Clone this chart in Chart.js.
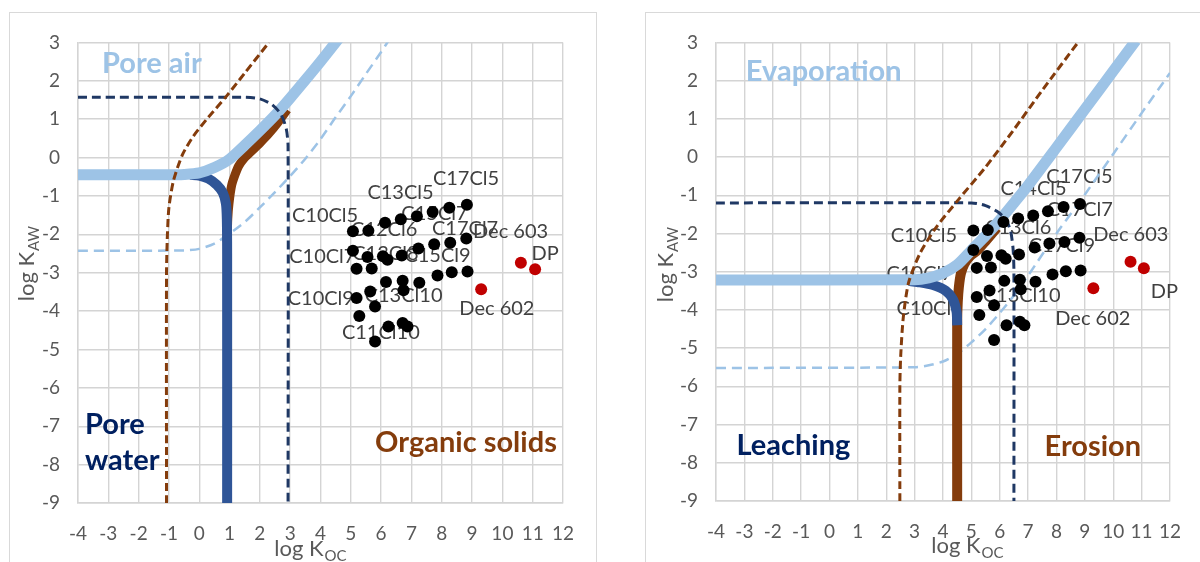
<!DOCTYPE html>
<html>
<head>
<meta charset="utf-8">
<script src="https://cdn.jsdelivr.net/npm/chart.js@4.4.1/dist/chart.umd.min.js"></script>
<style>
  body { margin: 0; background: #fff; width: 1200px; height: 562px; overflow: hidden; position: relative; }
  .panel { position: absolute; top: 12px; height: 560px; border: 1px solid #d9d9d9; }
  #leftPanel { left: 9px; width: 586px; }
  #rightPanel { left: 645px; width: 600px; }
  canvas { position: absolute; left: 0; top: 0; }
</style>
</head>
<body>
<div class="panel" id="leftPanel"><canvas id="leftChart" width="586" height="550"></canvas></div>
<div class="panel" id="rightPanel"><canvas id="rightChart" width="554" height="550"></canvas></div>
<script>
// compounds (log Koc, log Kaw) - same in both panels
const compKoc = [5.07, 5.58, 6.13, 6.65, 7.18, 7.70, 8.25, 8.83, 5.07, 5.55, 6.06, 6.21, 6.68, 7.23, 7.75, 8.28, 8.81,
                 5.19, 5.69, 6.16, 6.71, 7.26, 7.86, 8.33, 8.85, 5.19, 5.64, 6.74, 5.80, 5.28, 6.24, 6.71, 6.87, 5.80]
const compKaw = [-1.92, -1.91, -1.70, -1.61, -1.53, -1.42, -1.31, -1.23, -2.43, -2.59, -2.57, -2.66, -2.55, -2.37, -2.26, -2.22, -2.11,
                 -2.90, -2.89, -3.24, -3.21, -3.26, -3.07, -2.99, -2.97, -3.66, -3.49, -3.46, -3.88, -4.13, -4.40, -4.31, -4.40, -4.79]
const decKoc = [9.30, 10.61, 11.08]
const decKaw = [-3.43, -2.74, -2.91]

// left panel curves
const airLx = [-4, -1, -0.5, 0, 0.5, 1, 1.5, 2, 2.5, 3, 3.5, 4, 4.6]
const airLy = [-0.45, -0.45, -0.44, -0.40, -0.26, -0.04, 0.32, 0.70, 1.10, 1.55, 2.02, 2.50, 3.10]
const waterLx = [-0.3, 0, 0.3, 0.58, 0.78, 0.88, 0.91, 0.92, 0.92]
const waterLy = [-0.45, -0.47, -0.55, -0.71, -0.92, -1.2, -1.6, -2.5, -9]
const solidLx = [0.92, 0.94, 0.98, 1.07, 1.18, 1.3, 1.5, 1.7, 2.0, 2.3, 2.6, 2.9]
const solidLy = [-2.2, -1.6, -1.2, -0.72, -0.45, -0.22, 0.0, 0.15, 0.38, 0.63, 0.92, 1.25]
const solidDashLx = [-1.08, -1.08, -1.05, -1.0, -0.85, -0.55, -0.2, 0.3, 0.9, 1.5, 2.3]
const solidDashLy = [-9, -3, -2, -1.3, -0.6, 0.08, 0.55, 1.05, 1.6, 2.2, 3.0]
const waterDashLx = [-4, 1.5, 2.0, 2.4, 2.7, 2.87, 2.93, 2.93]
const waterDashLy = [1.57, 1.57, 1.53, 1.38, 1.12, 0.75, 0.3, -9]
const airDashLx = [-4, -0.5, 0, 0.5, 1, 1.5, 2, 2.5, 3, 3.5, 4, 4.5, 5, 5.5, 6, 6.25]
const airDashLy = [-2.43, -2.42, -2.38, -2.24, -1.98, -1.68, -1.30, -0.90, -0.48, -0.03, 0.48, 1.05, 1.6, 2.18, 2.75, 3.05]

// right panel curves
const airRx = [-4, 3, 3.5, 4, 4.5, 5, 5.5, 6, 6.5, 7, 8, 9, 10, 10.8]
const airRy = [-3.22, -3.21, -3.16, -3.04, -2.82, -2.44, -2.06, -1.65, -1.2, -0.74, 0.25, 1.25, 2.25, 3.05]
const waterRx = [2.8, 3.1, 3.65, 4.1, 4.35, 4.48, 4.5]
const waterRy = [-3.24, -3.27, -3.35, -3.5, -3.72, -4.05, -4.4]
const solidRx = [4.5, 4.5, 4.52, 4.56, 4.63, 4.75, 4.95, 5.2, 5.5, 5.9]
const solidRy = [-9, -4.3, -3.8, -3.4, -3.05, -2.8, -2.6, -2.45, -2.2, -1.85]
const solidDashRx = [2.48, 2.48, 2.51, 2.6, 2.79, 3.19, 3.76, 4.56, 5.46, 6.49, 7.5, 8.76]
const solidDashRy = [-9, -6, -5.2, -4.2, -3.28, -2.52, -1.84, -1.1, -0.3, 0.71, 1.75, 3.0]
const waterDashRx = [-4, 5.0, 5.5, 5.9, 6.2, 6.38, 6.47, 6.5, 6.5]
const waterDashRy = [-1.2, -1.2, -1.27, -1.42, -1.62, -1.93, -2.4, -3, -9]
const airDashRx = [-4, 3, 3.5, 4, 4.5, 5, 5.5, 6, 6.5, 7, 8, 9, 10, 11, 12]
const airDashRy = [-5.52, -5.5, -5.45, -5.35, -5.15, -4.85, -4.5, -4.08, -3.62, -3.1, -2.0, -0.98, 0.08, 1.15, 2.2]

// data labels
const leftLabelText = ['C17Cl5', 'C13Cl5', 'C10Cl5', 'C12Cl6', 'C15Cl7', 'C17Cl7', 'Dec 603', 'C10Cl7', 'C13Cl8',
                       'C15Cl9', 'DP', 'C10Cl9', 'C13Cl10', 'Dec 602', 'C11Cl10']
const leftLabelX = [8.80, 6.64, 4.15, 6.10, 7.76, 8.77, 10.27, 4.06, 6.14, 7.86, 11.41, 4.01, 6.74, 9.82, 5.99]
const leftLabelY = [-0.54, -0.92, -1.50, -1.88, -1.46, -1.84, -1.92, -2.59, -2.51, -2.55, -2.51, -3.68, -3.60, -3.94, -4.56]
const rightLabelText = ['C17Cl5', 'C14Cl5', 'C17Cl7', 'C13Cl6', 'C10Cl5', 'C17Cl9', 'Dec 603', 'C10Cl7', 'C10Cl9',
                        'C13Cl10', 'Dec 602', 'DP']
const rightLabelX = [8.81, 7.19, 8.82, 6.65, 3.33, 8.19, 10.62, 3.18, 3.53, 6.77, 9.28, 11.80]
const rightLabelY = [-0.52, -0.82, -1.37, -1.84, -2.05, -2.31, -2.03, -3.05, -3.96, -3.62, -4.22, -3.52]

// region names
const leftRegionText = ['Pore air', 'Pore', 'water', 'Organic solids']
const leftRegionX = [-3.21, -3.77, -3.77, 8.80]
const leftRegionY = [2.45, -6.95, -7.89, -7.42]
const rightRegionText = ['Evaporation', 'Leaching', 'Erosion']
const rightRegionX = [-2.95, -1.27, 9.28]
const rightRegionY = [2.24, -7.55, -7.57]

const LIGHT = '#9dc3e6'
const DARK = '#2f5597'
const BROWN = '#843c0c'
const NAVY = '#1f3864'
const NAVYTEXT = '#002060'
const FONT = 'Lato, "Open Sans", sans-serif'

function pts(xs, ys) {
  return xs.map(function(v, i) { return {x: v, y: ys[i]} })
}

function curve(xs, ys, color, width, dash, order) {
  return {
    type: 'line',
    data: pts(xs, ys),
    borderColor: color,
    borderWidth: width,
    borderDash: dash,
    pointRadius: 0,
    tension: 0.25,
    fill: false,
    clip: 0,
    order: order
  }
}

function textPlugin(lab, reg, titles) {
  return {
    id: 'texts',
    beforeDatasetsDraw(chart) {
      const ctx = chart.ctx
      const x = chart.scales.x
      const y = chart.scales.y
      ctx.save()
      ctx.textBaseline = 'middle'
      ctx.textAlign = 'center'
      ctx.font = '20px ' + FONT
      ctx.fillStyle = '#404040'
      for (let i = 0; i < lab.text.length; i++) {
        ctx.fillText(lab.text[i], x.getPixelForValue(lab.x[i]), y.getPixelForValue(lab.y[i]))
      }
      ctx.font = 'bold 29px ' + FONT
      for (let i = 0; i < reg.text.length; i++) {
        ctx.fillStyle = reg.color[i]
        ctx.textAlign = reg.align[i]
        ctx.fillText(reg.text[i], x.getPixelForValue(reg.x[i]), y.getPixelForValue(reg.y[i]))
      }
      ctx.restore()
    },
    afterDraw(chart) {
      const ctx = chart.ctx
      ctx.save()
      ctx.fillStyle = '#595959'
      ctx.textBaseline = 'alphabetic'
      ctx.textAlign = 'left'
      // x title
      drawSub(ctx, titles.xcx, titles.xby, 'log K', 'OC')
      // y title, rotated
      ctx.translate(titles.ycx, titles.ycy)
      ctx.rotate(-Math.PI / 2)
      drawSub(ctx, 0, 7, 'log K', 'AW')
      ctx.restore()
    }
  }
}

function drawSub(ctx, cx, by, main, sub) {
  ctx.font = '22px ' + FONT
  const mw = ctx.measureText(main).width
  ctx.font = '15px ' + FONT
  const sw = ctx.measureText(sub).width
  const x0 = cx - (mw + sw) / 2
  ctx.font = '22px ' + FONT
  ctx.fillText(main, x0, by)
  ctx.font = '15px ' + FONT
  ctx.fillText(sub, x0 + mw + 1, by + 5)
}

function makeChart(id, curves, lab, reg, titles, lay) {
  const datasets = [
    {type: 'scatter', data: pts(compKoc, compKaw), backgroundColor: '#000', borderWidth: 0, pointRadius: 6, order: 0},
    {type: 'scatter', data: pts(decKoc, decKaw), backgroundColor: '#c00000', borderWidth: 0, pointRadius: 6, order: 0}
  ].concat(curves)

  return new Chart(document.getElementById(id).getContext('2d'), {
    type: 'scatter',
    data: {datasets: datasets},
    options: {
      responsive: false,
      animation: false,
      devicePixelRatio: 1,
      layout: {padding: {top: lay.top, right: lay.right, left: 0, bottom: 0}},
      plugins: {legend: {display: false}, tooltip: {enabled: false}},
      scales: {
        x: {
          type: 'linear', min: -4, max: 12,
          afterFit: function(s) { s.height = lay.xh },
          ticks: {stepSize: 1, padding: 19, color: '#595959', font: {family: FONT, size: 19}},
          grid: {color: '#d4d4d4', lineWidth: 1.4, drawTicks: false},
          border: {color: '#d4d4d4', width: 1.4}
        },
        y: {
          type: 'linear', min: -9, max: 3,
          afterFit: function(s) { s.width = lay.yw },
          ticks: {stepSize: 1, padding: 18, color: '#595959', font: {family: FONT, size: 19}},
          grid: {color: '#d4d4d4', lineWidth: 1.4, drawTicks: false},
          border: {color: '#d4d4d4', width: 1.4}
        }
      }
    },
    plugins: [textPlugin(lab, reg, titles)]
  })
}

makeChart('leftChart', [
    curve(solidDashLx, solidDashLy, BROWN, 3, [8, 4], 1),
    curve(waterDashLx, waterDashLy, NAVY, 3, [9, 5], 2),
    curve(airLx, airLy, LIGHT, 11, [], 3),
    curve(waterLx, waterLy, DARK, 10, [], 4),
    curve(solidLx, solidLy, BROWN, 9, [], 5),
    curve(airDashLx, airDashLy, LIGHT, 2.5, [10, 6], 6)
  ],
  {text: leftLabelText, x: leftLabelX, y: leftLabelY},
  {text: leftRegionText, x: leftRegionX, y: leftRegionY,
   color: [LIGHT, NAVYTEXT, NAVYTEXT, BROWN], align: ['left', 'left', 'left', 'center']},
  {xcx: 300, xby: 543, ycx: 17, ycy: 251},
  {top: 13, right: 33, xh: 60, yw: 68})

makeChart('rightChart', [
    curve(solidDashRx, solidDashRy, BROWN, 3, [8, 4], 1),
    curve(waterDashRx, waterDashRy, NAVY, 3, [9, 5], 2),
    curve(airRx, airRy, LIGHT, 11, [], 3),
    curve(waterRx, waterRy, DARK, 10, [], 4),
    curve(solidRx, solidRy, BROWN, 10, [], 5),
    curve(airDashRx, airDashRy, LIGHT, 2.5, [10, 6], 6)
  ],
  {text: rightLabelText, x: rightLabelX, y: rightLabelY},
  {text: rightRegionText, x: rightRegionX, y: rightRegionY,
   color: [LIGHT, NAVYTEXT, BROWN], align: ['left', 'center', 'center']},
  {xcx: 321, xby: 540, ycx: 20, ycy: 252},
  {top: 17, right: 15, xh: 62, yw: 70})
</script>
</body>
</html>
